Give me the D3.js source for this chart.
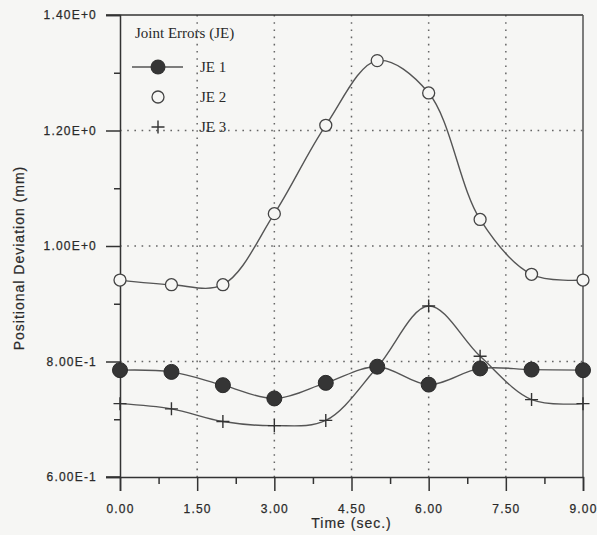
<!DOCTYPE html>
<html>
<head>
<meta charset="utf-8">
<script src="https://cdn.jsdelivr.net/npm/d3@7"></script>
<style>
  html, body { margin: 0; padding: 0; background: #f6f6f4; }
  svg { display: block; }
</style>
</head>
<body>
<svg id="chart" width="597" height="535"></svg>
<script>
// ---- data ----
const times = [0, 1, 2, 3, 4, 5, 6, 7, 8, 9];
const je1 = [0.785, 0.782, 0.759, 0.736, 0.763, 0.791, 0.760, 0.788, 0.786, 0.785];
const je2 = [0.941, 0.933, 0.933, 1.056, 1.209, 1.321, 1.265, 1.046, 0.951, 0.941];
const je3 = [0.727, 0.718, 0.696, 0.689, 0.698, 0.790, 0.896, 0.809, 0.734, 0.727];
const seriesNames = ["JE 1", "JE 2", "JE 3"];
const legendTitle = "Joint Errors (JE)";
const xTicks = [0, 1.5, 3, 4.5, 6, 7.5, 9];
const xTickLabels = ["0.00", "1.50", "3.00", "4.50", "6.00", "7.50", "9.00"];
const xMinorTicks = [0.75, 2.25, 3.75, 5.25, 6.75, 8.25];
const yTicks = [0.6, 0.8, 1.0, 1.2, 1.4];
const yTickLabels = ["6.00E-1", "8.00E-1", "1.00E+0", "1.20E+0", "1.40E+0"];
const yMinorTicks = [0.7, 0.9, 1.1, 1.3];
const xTitle = "Time (sec.)";
const yTitle = "Positional Deviation (mm)";

// ---- layout ----
const svg = d3.select("#chart");
const L = 120, R = 583, T = 15, B = 477;
const x = d3.scaleLinear().domain([0, 9]).range([L, R]);
const y = d3.scaleLinear().domain([0.6, 1.4]).range([B, T]);
const ink = "#333";
const sans = "Arial, 'Liberation Sans', Helvetica, sans-serif";
const serif = "'Times New Roman', 'Liberation Serif', serif";
const textFill = "#2a2a2a";

// grid
const grid = svg.append("g");
grid.selectAll("line.gx").data(xTicks.slice(1, -1)).join("line")
  .attr("x1", d => x(d)).attr("x2", d => x(d)).attr("y1", T).attr("y2", B)
  .attr("stroke", "#666").attr("stroke-width", 1.5).attr("stroke-dasharray", "1.6,5.6");
grid.selectAll("line.gy").data(yTicks.slice(1, -1)).join("line")
  .attr("x1", L).attr("x2", R).attr("y1", d => y(d)).attr("y2", d => y(d))
  .attr("stroke", "#666").attr("stroke-width", 1.5).attr("stroke-dasharray", "1.6,5.6");

// frame top / right
svg.append("line").attr("x1", L - 14).attr("x2", R).attr("y1", T).attr("y2", T)
  .attr("stroke", ink).attr("stroke-width", 1.5);
svg.append("line").attr("x1", R).attr("x2", R).attr("y1", T).attr("y2", B)
  .attr("stroke", "#555").attr("stroke-width", 1.5);

// axes
const yAxis = d3.axisLeft(y).tickValues(yTicks).tickSize(14).tickPadding(9)
  .tickFormat((d, i) => yTickLabels[i]);
const gy = svg.append("g").attr("transform", `translate(${L},0)`).call(yAxis);
gy.select(".domain").attr("stroke", ink).attr("stroke-width", 1.5);
gy.selectAll(".tick line").attr("stroke", ink).attr("stroke-width", 1.5);
gy.selectAll(".tick text").attr("font-family", sans).attr("font-size", 12)
  .attr("letter-spacing", 1.2).attr("fill", textFill)
  .attr("stroke", textFill).attr("stroke-width", 0.25);
const yMinor = d3.axisLeft(y).tickValues(yMinorTicks).tickSize(6).tickFormat("");
const gym = svg.append("g").attr("transform", `translate(${L},0)`).call(yMinor);
gym.select(".domain").remove();
gym.selectAll(".tick line").attr("stroke", ink).attr("stroke-width", 1.5);

const xAxis = d3.axisBottom(x).tickValues(xTicks).tickSize(14).tickPadding(13)
  .tickFormat((d, i) => xTickLabels[i]);
const gx = svg.append("g").attr("transform", `translate(0,${B})`).call(xAxis);
gx.select(".domain").attr("stroke", ink).attr("stroke-width", 1.5);
gx.selectAll(".tick line").attr("stroke", ink).attr("stroke-width", 1.5);
gx.selectAll(".tick text").attr("font-family", sans).attr("font-size", 12)
  .attr("letter-spacing", 1.2).attr("fill", textFill)
  .attr("stroke", textFill).attr("stroke-width", 0.25);
const xMinor = d3.axisBottom(x).tickValues(xMinorTicks).tickSize(7).tickFormat("");
const gxm = svg.append("g").attr("transform", `translate(0,${B})`).call(xMinor);
gxm.select(".domain").remove();
gxm.selectAll(".tick line").attr("stroke", ink).attr("stroke-width", 1.5);
svg.append("line").attr("x1", L - 14).attr("x2", L).attr("y1", B).attr("y2", B)
  .attr("stroke", ink).attr("stroke-width", 1.5);

// titles
svg.append("text").attr("x", (L + R) / 2).attr("y", 528).attr("text-anchor", "middle")
  .attr("font-family", sans).attr("font-size", 14).attr("letter-spacing", 1)
  .attr("fill", textFill).attr("stroke", textFill).attr("stroke-width", 0.2).text(xTitle);
svg.append("text").attr("transform", `translate(24,258) rotate(-90)`).attr("text-anchor", "middle")
  .attr("font-family", sans).attr("font-size", 14).attr("letter-spacing", 1)
  .attr("fill", textFill).attr("stroke", textFill).attr("stroke-width", 0.2).text(yTitle);

// lines
const line = d3.line().x((d, i) => x(times[i])).y(d => y(d)).curve(d3.curveCatmullRom.alpha(0.5));
[je1, je2, je3].forEach(s => {
  svg.append("path").attr("d", line(s)).attr("fill", "none")
    .attr("stroke", "#555").attr("stroke-width", 1.4);
});

// markers
const plus = (g, cx, cy, h) => {
  g.append("path").attr("d", `M${cx - h},${cy}H${cx + h}M${cx},${cy - h}V${cy + h}`)
    .attr("stroke", "#333").attr("stroke-width", 1.4).attr("fill", "none");
};
const m = svg.append("g");
m.selectAll("circle.je2").data(je2).join("circle")
  .attr("cx", (d, i) => x(times[i])).attr("cy", d => y(d)).attr("r", 6)
  .attr("fill", "#f6f6f4").attr("stroke", "#444").attr("stroke-width", 1.3);
je3.forEach((d, i) => plus(m, x(times[i]), y(d), 6.5));
m.selectAll("circle.je1").data(je1).join("circle")
  .attr("cx", (d, i) => x(times[i])).attr("cy", d => y(d)).attr("r", 7.5)
  .attr("fill", "#353535").attr("stroke", "#2a2a2a").attr("stroke-width", 1);

// legend
const lg = svg.append("g");
lg.append("text").attr("x", 135).attr("y", 38).attr("font-family", serif).attr("font-size", 15)
  .attr("fill", textFill).text(legendTitle);
const rows = [67, 97, 127];
lg.append("line").attr("x1", 132).attr("x2", 183).attr("y1", rows[0]).attr("y2", rows[0])
  .attr("stroke", "#555").attr("stroke-width", 1.4);
lg.append("circle").attr("cx", 158).attr("cy", rows[0]).attr("r", 7.5).attr("fill", "#353535");
lg.append("circle").attr("cx", 158).attr("cy", rows[1]).attr("r", 6).attr("fill", "#f6f6f4")
  .attr("stroke", "#444").attr("stroke-width", 1.3);
plus(lg, 158, rows[2], 6.5);
seriesNames.forEach((n, i) => {
  lg.append("text").attr("x", 200).attr("y", rows[i] + 5).attr("font-family", serif)
    .attr("font-size", 15).attr("fill", textFill).text(n);
});
</script>
</body>
</html>
